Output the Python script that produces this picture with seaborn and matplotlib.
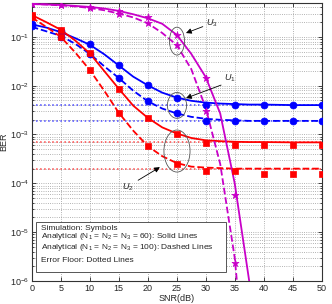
import numpy as np
import pandas as pd
import matplotlib
matplotlib.use("Agg")
import matplotlib.pyplot as plt
from matplotlib.patches import Ellipse, Rectangle
import seaborn as sns

# ---------------- data ----------------
snr_sim = [0, 5, 10, 15, 20, 25, 30, 35, 40, 45, 50]
u1_sim60 = [0.18, 0.13, 0.070, 0.026, 0.0102, 0.0056, 0.0041, 0.0041, 0.0041, 0.0041, 0.0041]
u1_sim100 = [0.17, 0.10, 0.045, 0.0144, 0.0048, 0.0027, 0.0019, 0.0019, 0.0019, 0.0019, 0.0019]
u2_sim60 = [0.28, 0.14, 0.046, 0.0087, 0.0022, 0.0010, 0.00067, 0.00061, 0.00061, 0.00061, 0.00062]
u2_sim100 = [0.25, 0.10, 0.021, 0.0028, 0.00058, 0.00025, 0.00018, 0.000175, 0.000155, 0.000155, 0.000155]
snr_sim_u3 = [0, 5, 10, 15, 20, 25, 30, 35]
u3_sim60 = [0.47, 0.45, 0.41, 0.34, 0.25, 0.11, 0.0144, 5.9e-5]
u3_sim100 = [0.47, 0.44, 0.39, 0.30, 0.19, 0.068, 0.0031, 2.3e-6]

snr_an = [0, 2.5, 5, 7.5, 10, 12.5, 15, 17.5, 20, 22.5, 25, 27.5, 30, 32.5, 35, 37.5, 40, 45, 50]
u1_an60 = [0.18, 0.155, 0.125, 0.094, 0.069, 0.044, 0.026, 0.0153, 0.0102, 0.0072, 0.0057, 0.0049,
           0.0045, 0.0043, 0.0042, 0.0041, 0.0041, 0.0040, 0.0040]
u1_an100 = [0.16, 0.13, 0.105, 0.072, 0.045, 0.025, 0.0144, 0.0079, 0.0048, 0.0034, 0.0027, 0.0023,
            0.0021, 0.0020, 0.00195, 0.0019, 0.0019, 0.0019, 0.0019]
u2_an60 = [0.28, 0.20, 0.14, 0.084, 0.046, 0.020, 0.0087, 0.0039, 0.0022, 0.0014, 0.00105, 0.00085,
           0.00076, 0.00073, 0.00071, 0.00070, 0.00070, 0.00069, 0.00069]
u2_an100 = [0.25, 0.16, 0.10, 0.048, 0.021, 0.0079, 0.0028, 0.0012, 0.00058, 0.00036, 0.00026, 0.00022,
            0.00021, 0.000205, 0.00020, 0.00020, 0.00020, 0.00020, 0.00020]
snr_an_u3_60 = [0, 2.5, 5, 7.5, 10, 12.5, 15, 17.5, 20, 22.5, 25, 27.5, 30, 32.5, 35, 37.5, 38]
u3_an60 = [0.47, 0.46, 0.45, 0.43, 0.41, 0.38, 0.34, 0.29, 0.24, 0.185, 0.11, 0.045, 0.015, 0.0027,
           1.0e-4, 1.0e-6, 3.5e-7]
snr_an_u3_100 = [0, 2.5, 5, 7.5, 10, 12.5, 15, 17.5, 20, 22.5, 25, 27.5, 30, 32.5, 35, 35.5]
u3_an100 = [0.47, 0.46, 0.44, 0.42, 0.39, 0.35, 0.30, 0.25, 0.19, 0.12, 0.068, 0.022, 0.0035,
            2.5e-4, 3.0e-6, 7.0e-7]

floor_u1 = [0.0040, 0.0019]
floor_u2 = [0.00069, 0.00020]

x_ticks = [0, 5, 10, 15, 20, 25, 30, 35, 40, 45, 50]

# ---------------- style ----------------
sns.set_style("ticks")
plt.rcParams['font.family'] = ['Liberation Sans', 'DejaVu Sans']
plt.rcParams['mathtext.fontset'] = 'custom'
plt.rcParams['mathtext.rm'] = 'Liberation Sans'
plt.rcParams['mathtext.it'] = 'Liberation Sans:italic'

BLUE = "#0000ff"
RED = "#ff0000"
MAG = "#c800c8"

fig = plt.figure(figsize=(3.32, 3.04), dpi=100)
ax = fig.add_axes([31.7 / 332, 1 - 281 / 304, 290 / 332, 278.3 / 304])
ax.set_yscale("log")

lw = 1.3
def line(x, y, color, ls):
    sns.lineplot(x=x, y=y, ax=ax, color=color, linestyle=ls, linewidth=lw,
                 estimator=None, sort=False, zorder=3)

def pts(x, y, color, marker, s):
    sns.scatterplot(x=x, y=y, ax=ax, color=color, marker=marker, s=s,
                    edgecolor=color, linewidth=0.5, zorder=5)

# floors
for f in floor_u1:
    sns.lineplot(x=[0, 50], y=[f, f], ax=ax, color="#4a4aff", linestyle=":", linewidth=1.1, zorder=2)
for f in floor_u2:
    sns.lineplot(x=[0, 50], y=[f, f], ax=ax, color="#ff4a4a", linestyle=":", linewidth=1.1, zorder=2)

line(snr_an, u1_an60, BLUE, "-")
line(snr_an, u1_an100, BLUE, "--")
line(snr_an, u2_an60, RED, "-")
line(snr_an, u2_an100, RED, "--")
line(snr_an_u3_60, u3_an60, MAG, "-")
line(snr_an_u3_100, u3_an100, MAG, "--")

pts(snr_sim, u1_sim60, BLUE, "o", 25)
pts(snr_sim, u1_sim100, BLUE, "o", 25)
pts(snr_sim, u2_sim60, RED, "s", 20)
pts(snr_sim, u2_sim100, RED, "s", 20)
pts(snr_sim_u3, u3_sim60, MAG, "*", 28)
pts(snr_sim_u3, u3_sim100, MAG, "*", 28)

ax.set_xlim(0, 50)
ax.set_ylim(1e-6, 0.5)
ax.set_xticks(x_ticks)
ax.set_xticklabels([str(t) for t in x_ticks])
ax.grid(True, which="major", axis="both", linestyle=":", color="#9a9a9a", linewidth=0.6)
ax.grid(True, which="minor", axis="y", linestyle=":", color="#9a9a9a", linewidth=0.6)
ax.tick_params(which="both", direction="in", top=True, right=True, labelsize=6.5, pad=2,
               length=3, width=0.6)
ax.tick_params(which="minor", length=1.5)
for sp in ax.spines.values():
    sp.set_linewidth(0.8)
    sp.set_color("#333333")
ax.set_xlabel("SNR(dB)", fontsize=6.5, labelpad=1)
ax.set_ylabel("BER", fontsize=6.5, labelpad=1)

# ellipses and arrows (axes-fraction coordinates)
ell_kw = dict(transform=ax.transAxes, fill=False, edgecolor="#555555", linewidth=0.6, zorder=6)
ax.add_patch(Ellipse((0.501, 0.862), 0.052, 0.10, **ell_kw))
ax.add_patch(Ellipse((0.501, 0.631), 0.066, 0.093, **ell_kw))
ax.add_patch(Ellipse((0.501, 0.467), 0.090, 0.151, **ell_kw))

arr = dict(arrowstyle="-|>", color="black", lw=0.6, mutation_scale=8, shrinkA=0, shrinkB=0)
ax.annotate("", xy=(0.532, 0.891), xytext=(0.590, 0.914), xycoords="axes fraction", arrowprops=arr, zorder=7)
ax.annotate("", xy=(0.532, 0.657), xytext=(0.653, 0.704), xycoords="axes fraction", arrowprops=arr, zorder=7)
ax.annotate("", xy=(0.442, 0.409), xytext=(0.367, 0.362), xycoords="axes fraction", arrowprops=arr, zorder=7)
tk = dict(transform=ax.transAxes, fontsize=6.5, ha="center", va="center", zorder=7)
ax.text(0.622, 0.925, "$U_3$", **tk)
ax.text(0.683, 0.729, "$U_1$", **tk)
ax.text(0.332, 0.338, "$U_2$", **tk)

# text box
ax.add_patch(Rectangle((0.015, 0.032), 0.655, 0.180, transform=ax.transAxes, facecolor="white",
                       edgecolor="#555555", linewidth=0.7, zorder=8))
bk = dict(transform=ax.transAxes, fontsize=6.0, ha="left", va="center", zorder=9)
ax.text(0.031, 0.190, "Simulation: Symbols", **bk)
ax.text(0.031, 0.161, "Analytical (N$_1$ = N$_2$ = N$_3$ = 60): Solid Lines", **bk)
ax.text(0.031, 0.120, "Analytical (N$_1$ = N$_2$ = N$_3$ = 100): Dashed Lines", **bk)
ax.text(0.031, 0.074, "Error Floor: Dotted Lines", **bk)

fig.savefig("out.png", dpi=100)
